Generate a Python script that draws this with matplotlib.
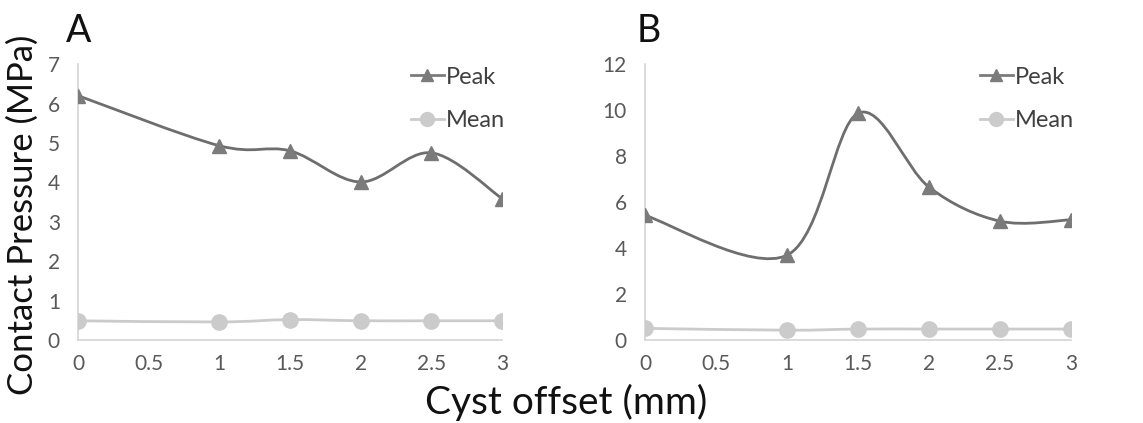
import numpy as np
import matplotlib.pyplot as plt
from matplotlib.path import Path
from matplotlib.patches import PathPatch

plt.rcParams["font.family"] = ["Lato", "DejaVu Sans"]

offsets = [0, 1, 1.5, 2, 2.5, 3]
peak_a = [6.20, 4.93, 4.80, 4.01, 4.75, 3.59]
mean_a = [0.49, 0.46, 0.52, 0.49, 0.49, 0.49]
peak_b = [5.42, 3.69, 9.86, 6.65, 5.17, 5.23]
mean_b = [0.51, 0.43, 0.48, 0.48, 0.48, 0.48]
xticks = [0, 0.5, 1, 1.5, 2, 2.5, 3]
xtick_labels = ["0", "0.5", "1", "1.5", "2", "2.5", "3"]

PEAK_LINE = "#6e6e6e"
PEAK_MARK = "#7b7b7b"
MEAN_COL = "#cbcbcb"
SPINE = "#d4d4d4"
TICK_TXT = "#595959"
TXT = "#404040"


def _smooth_path(xs, ys):
    # excel-like smoothed line: catmull-rom turned into cubic beziers
    pts = np.column_stack([xs, ys]).astype(float)
    n = len(pts)
    verts = [pts[0]]
    codes = [Path.MOVETO]
    for i in range(n - 1):
        p0 = pts[max(i - 1, 0)]
        p1 = pts[i]
        p2 = pts[i + 1]
        p3 = pts[min(i + 2, n - 1)]
        c1 = p1 + (p2 - p0) / 6.0
        c2 = p2 - (p3 - p1) / 6.0
        verts += [c1, c2, p2]
        codes += [Path.CURVE4] * 3
    return Path(verts, codes)


def _panel(ax, peak, mean, ymax, ystep):
    ax.add_patch(PathPatch(_smooth_path(offsets, peak), fill=False,
                           edgecolor=PEAK_LINE, lw=2.0, zorder=2))
    ax.add_patch(PathPatch(_smooth_path(offsets, mean), fill=False,
                           edgecolor=MEAN_COL, lw=2.0, zorder=2))
    ax.plot(offsets, peak, ls="none", marker="^", ms=10, color=PEAK_MARK, zorder=3)
    ax.plot(offsets, mean, ls="none", marker="o", ms=11, color=MEAN_COL, zorder=3)
    # legend proxies
    ax.plot([], [], "-^", color=PEAK_MARK, lw=2, ms=9, label="Peak")
    ax.plot([], [], "-o", color=MEAN_COL, lw=2, ms=10, label="Mean")

    ax.set_xlim(0, 3)
    ax.set_ylim(0, ymax)
    ax.set_xticks(xticks)
    ax.set_xticklabels(xtick_labels)
    ax.set_yticks(np.arange(0, ymax + 0.1, ystep))
    ax.tick_params(length=0, labelsize=15, colors=TICK_TXT)
    ax.tick_params(axis="y", pad=13)
    ax.tick_params(axis="x", pad=10)
    for s in ["top", "right"]:
        ax.spines[s].set_visible(False)
    for s in ["left", "bottom"]:
        ax.spines[s].set_color(SPINE)
        ax.spines[s].set_linewidth(1.2)
    for sp in ax.spines.values():
        sp.set_clip_on(False)
    leg = ax.legend(loc="upper right", bbox_to_anchor=(1.03, 1.025), frameon=False,
                    fontsize=17, handlelength=1.4, handletextpad=0.1,
                    labelspacing=0.95, borderaxespad=0)
    for t in leg.get_texts():
        t.set_color(TXT)


fig = plt.figure(figsize=(11.43, 4.23), dpi=100)
ax_a = fig.add_axes([0.0682, 0.196, 0.371, 0.6525])
ax_b = fig.add_axes([0.5643, 0.196, 0.3727, 0.6525])
_panel(ax_a, peak_a, mean_a, 7, 1)
_panel(ax_b, peak_b, mean_b, 12, 2)

fig.text(66 / 1143, 1 - 42 / 423, "A", fontsize=27, color="#111111", va="baseline")
fig.text(637 / 1143, 1 - 42 / 423, "B", fontsize=27, color="#111111", va="baseline")
fig.text(23 / 1143, 1 - 215 / 423, "Contact Pressure (MPa)", rotation=90,
         fontsize=25, color="#111111", ha="center", va="center")
fig.text(566 / 1143, 1 - 414 / 423, "Cyst offset (mm)", fontsize=28,
         color="#111111", ha="center", va="baseline")

fig.savefig("out.png", dpi=100)
